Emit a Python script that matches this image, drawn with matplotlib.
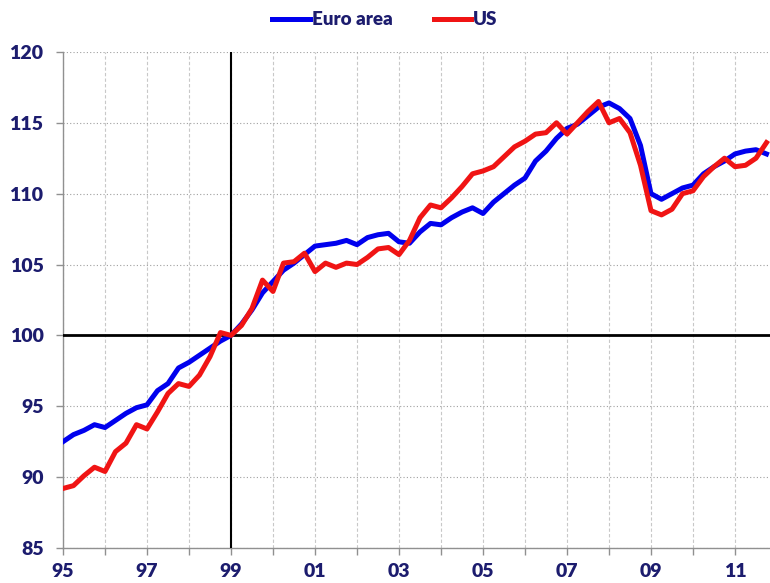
import numpy as np
import matplotlib.pyplot as plt

# quarterly GDP index, 1999Q1 = 100, from 1995Q1 to 2011Q4
euro_area = [92.5, 93.0, 93.3, 93.7,
             93.5, 94.0, 94.5, 94.9,
             95.1, 96.1, 96.6, 97.7,
             98.1, 98.6, 99.1, 99.6,
             100.0, 100.8, 101.8, 103.0,
             103.8, 104.6, 105.1, 105.7,
             106.3, 106.4, 106.5, 106.7,
             106.4, 106.9, 107.1, 107.2,
             106.6, 106.5, 107.3, 107.9,
             107.8, 108.3, 108.7, 109.0,
             108.6, 109.4, 110.0, 110.6,
             111.1, 112.3, 113.0, 113.9,
             114.6, 114.9, 115.5, 116.1,
             116.4, 116.0, 115.3, 113.4,
             110.0, 109.6, 110.0, 110.4,
             110.6, 111.4, 111.9, 112.3,
             112.8, 113.0, 113.1, 112.8]

us = [89.2, 89.4, 90.1, 90.7,
      90.4, 91.8, 92.4, 93.7,
      93.4, 94.6, 95.9, 96.6,
      96.4, 97.2, 98.5, 100.2,
      100.0, 100.7, 101.9, 103.9,
      103.1, 105.1, 105.2, 105.8,
      104.5, 105.1, 104.8, 105.1,
      105.0, 105.5, 106.1, 106.2,
      105.7, 106.7, 108.3, 109.2,
      109.0, 109.7, 110.5, 111.4,
      111.6, 111.9, 112.6, 113.3,
      113.7, 114.2, 114.3, 115.0,
      114.2, 115.0, 115.8, 116.5,
      115.0, 115.3, 114.3, 112.0,
      108.8, 108.5, 108.9, 110.0,
      110.2, 111.2, 111.9, 112.5,
      111.9, 112.0, 112.5, 113.6]

quarters = 1995 + np.arange(len(euro_area)) / 4
years = np.arange(1995, 2012)
label_years = ['95', '97', '99', '01', '03', '05', '07', '09', '11']
y_ticks = [85, 90, 95, 100, 105, 110, 115, 120]

navy = '#1c1c6e'
plt.rcParams['font.family'] = ['Lato', 'DejaVu Sans']
plt.rcParams['font.weight'] = 'heavy'

fig = plt.figure(figsize=(7.7, 5.83), dpi=100)
ax = fig.add_axes([0.0818, 0.060, 0.9182, 0.851])

ax.plot(quarters, euro_area, color='#0000ee', lw=3.6, label='Euro area', zorder=4)
ax.plot(quarters, us, color='#f01414', lw=3.6, label='US', zorder=5)

ax.axhline(100, color='black', lw=2.0, zorder=3)
ax.axvline(1999, color='black', lw=1.5, zorder=3)

ax.set_xlim(1995, 1995 + 707 / 42)
ax.set_ylim(85, 120)

ax.set_xticks(years)
ax.set_xticklabels([label_years[i // 2] if i % 2 == 0 else '' for i in range(len(years))])
ax.set_yticks(y_ticks)

ax.grid(axis='x', color='#c8c8c8', lw=0.8, ls=(0, (3, 2)))
ax.grid(axis='y', color='#a0a0a0', lw=0.8, ls=(0, (1, 2)))
ax.set_axisbelow(True)

for side in ['top', 'right']:
    ax.spines[side].set_visible(False)
for side in ['left', 'bottom']:
    ax.spines[side].set_color('#909090')
    ax.spines[side].set_linewidth(1.0)

ax.tick_params(axis='both', colors='#909090', labelcolor=navy, labelsize=14,
               length=5, width=1.0, direction='out')
ax.tick_params(axis='x', pad=6)
ax.tick_params(axis='y', pad=9)

fig.legend(loc='center', bbox_to_anchor=(0.5, 0.966), ncol=2, frameon=False,
           fontsize=13.5, handlelength=2.0, handletextpad=0.1, columnspacing=2.2,
           labelcolor=navy)

fig.savefig('out.png', dpi=100)
